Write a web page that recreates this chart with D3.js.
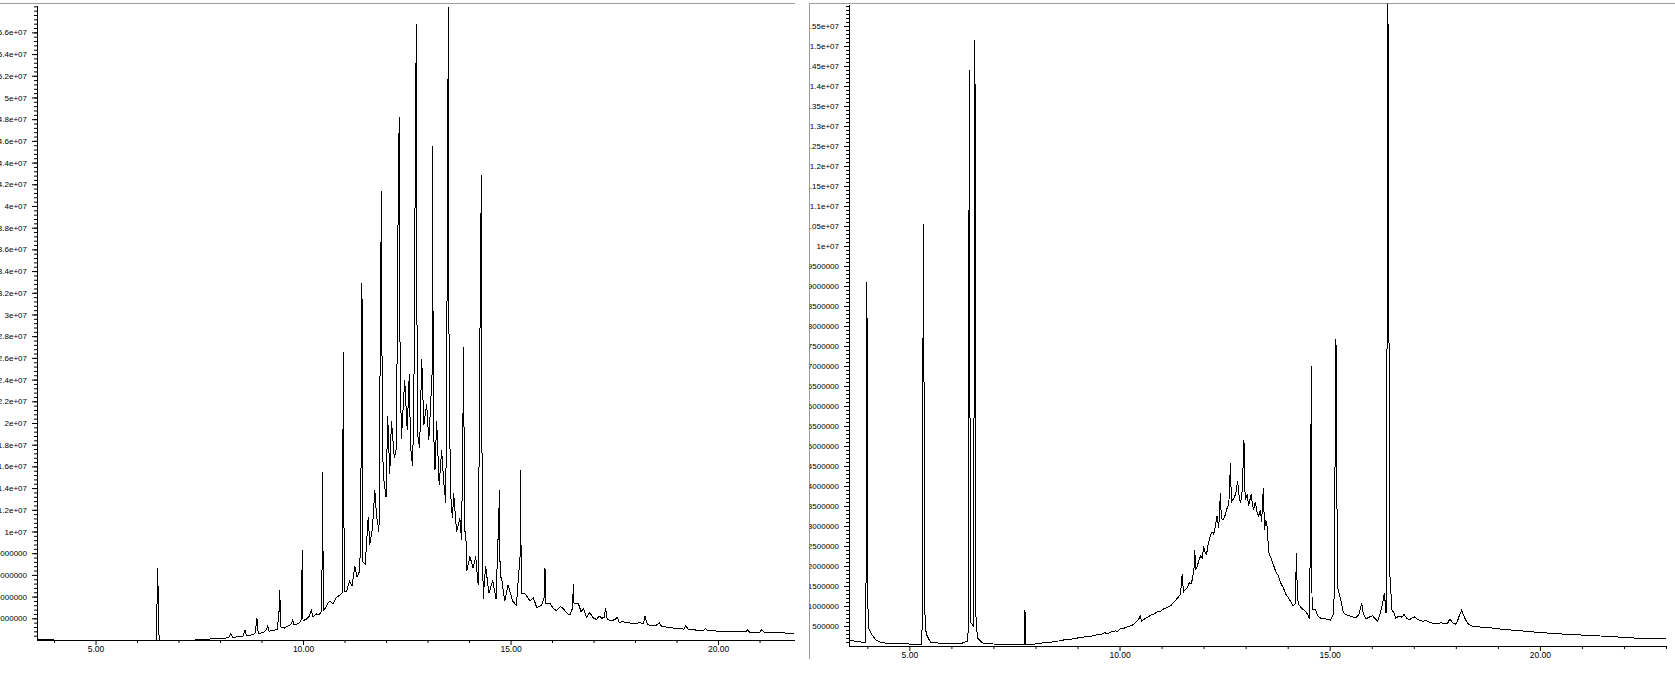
<!DOCTYPE html>
<html><head><meta charset="utf-8">
<script src="https://cdn.jsdelivr.net/npm/d3@7"></script>
<style>html,body{margin:0;padding:0;background:#fff;overflow:hidden}</style>
</head><body><svg id="c" width="1675" height="675"></svg>
<script>
// ---------- DATA: [time (min), abundance (millions of counts)] ----------
const leftTrace = [
[3.59,0.08],[3.98,0.08],[4.00,0],[6.46,0],[6.49,4.5],[6.50,6.65],[6.52,1.0],[6.54,0],[7.40,0],[7.60,0.05],[7.80,0.1],[8.00,0.15],[8.20,0.2],[8.26,0.6],[8.30,0.25],[8.45,0.3],[8.55,0.35],[8.60,0.9],[8.64,0.4],[8.80,0.5],[8.85,0.7],[8.89,2.0],[8.92,0.6],[9.05,0.7],[9.12,1.0],[9.15,1.3],[9.18,0.8],[9.30,0.9],[9.38,1.0],[9.42,2.5],[9.44,4.6],[9.46,1.2],[9.55,1.1],[9.65,1.3],[9.72,1.5],[9.75,1.9],[9.78,1.4],[9.88,1.5],[9.95,1.7],[9.97,4.0],[9.98,8.3],[10.00,1.8],[10.08,1.9],[10.15,2.2],[10.20,2.7],[10.24,2.1],[10.32,2.4],[10.38,2.3],[10.44,2.6],[10.46,7.0],[10.47,15.5],[10.49,2.7],[10.55,3.0],[10.60,3.4],[10.65,3.6],[10.72,3.3],[10.80,3.9],[10.89,4.15],[10.95,4.4],[10.97,26.5],[10.99,7.9],[11.01,4.5],[11.05,4.5],[11.12,5.4],[11.18,5.0],[11.25,6.8],[11.30,5.8],[11.37,6.4],[11.41,20.4],[11.42,32.9],[11.44,7.2],[11.50,7.0],[11.57,11.3],[11.61,8.8],[11.67,10.2],[11.73,13.8],[11.77,11.5],[11.83,10.0],[11.87,32.7],[11.89,41.4],[11.90,27.5],[11.93,15.3],[12.00,13.2],[12.04,20.6],[12.09,15.3],[12.13,20.2],[12.20,16.8],[12.25,17.7],[12.30,44.1],[12.32,48.2],[12.33,29.4],[12.37,18.5],[12.45,24.0],[12.51,19.4],[12.56,24.5],[12.59,17.9],[12.64,16.0],[12.67,21.7],[12.71,47.3],[12.73,56.8],[12.74,31.9],[12.77,18.7],[12.81,17.7],[12.86,25.9],[12.91,19.8],[12.98,21.7],[13.03,18.4],[13.07,21.3],[13.11,24.6],[13.12,45.5],[13.14,20.0],[13.18,15.7],[13.22,20.2],[13.28,14.3],[13.34,17.5],[13.39,14.6],[13.44,12.6],[13.48,37.9],[13.50,58.3],[13.51,31.5],[13.55,13.8],[13.60,11.2],[13.63,13.5],[13.70,10.0],[13.78,11.2],[13.82,9.2],[13.86,22.6],[13.87,27.0],[13.89,10.0],[13.92,10.0],[13.95,6.4],[14.02,7.7],[14.10,6.6],[14.16,7.7],[14.22,5.1],[14.28,36.8],[14.30,42.9],[14.31,18.5],[14.34,3.8],[14.40,6.8],[14.48,4.3],[14.57,5.5],[14.65,3.8],[14.72,11.7],[14.73,13.8],[14.75,5.8],[14.78,5.8],[14.86,3.6],[14.94,5.1],[15.05,3.6],[15.14,3.2],[15.23,7.7],[15.24,15.7],[15.26,4.3],[15.34,4.3],[15.47,3.6],[15.55,3.9],[15.63,3.0],[15.75,3.2],[15.82,4.0],[15.83,6.6],[15.85,3.4],[15.95,3.4],[16.03,2.9],[16.11,2.7],[16.20,3.1],[16.27,2.9],[16.35,2.5],[16.43,2.3],[16.50,3.0],[16.51,5.2],[16.53,3.4],[16.63,3.4],[16.70,2.6],[16.76,2.9],[16.83,2.1],[16.90,2.5],[16.95,2.3],[17.00,2.0],[17.07,1.9],[17.14,2.2],[17.20,2.0],[17.26,2.1],[17.29,2.9],[17.33,1.9],[17.40,1.8],[17.45,1.8],[17.52,1.9],[17.57,2.1],[17.62,1.6],[17.70,1.7],[17.80,1.6],[17.90,1.55],[18.00,1.5],[18.10,1.6],[18.20,1.5],[18.24,2.2],[18.30,1.4],[18.40,1.35],[18.50,1.3],[18.58,1.6],[18.65,1.2],[18.75,1.2],[18.85,1.15],[18.92,1.1],[19.00,1.1],[19.10,1.05],[19.18,1.0],[19.22,1.3],[19.28,1.0],[19.40,0.95],[19.50,0.9],[19.60,0.92],[19.66,0.9],[19.70,1.05],[19.76,0.85],[19.90,0.85],[20.00,0.8],[20.15,0.82],[20.30,0.8],[20.40,0.77],[20.50,0.75],[20.60,0.76],[20.68,0.75],[20.71,0.95],[20.76,0.72],[20.90,0.72],[21.00,0.7],[21.05,0.95],[21.12,0.7],[21.25,0.68],[21.40,0.65],[21.50,0.67],[21.60,0.65],[21.70,0.62],[21.83,0.6]
];

const rightTrace = [
[3.564,0.15],[3.70,0.12],[3.85,0.1],[3.96,0.1],[3.975,2.6],[3.985,9.1],[3.995,7.9],[4.005,1.35],[4.03,0.45],[4.10,0.3],[4.20,0.15],[4.35,0.08],[4.60,0.06],[5.00,0.05],[5.30,0.05],[5.32,6.8],[5.34,10.56],[5.36,1.0],[5.40,0.3],[5.50,0.1],[5.80,0.06],[6.20,0.05],[6.38,0.12],[6.40,0.4],[6.42,11.3],[6.43,14.4],[6.45,0.6],[6.52,0.5],[6.55,9.1],[6.56,15.15],[6.58,0.8],[6.62,0.2],[6.75,0.07],[7.00,0.05],[7.50,0.04],[7.73,0.04],[7.75,0.91],[7.77,0.04],[8.00,0.05],[8.20,0.08],[8.35,0.09],[8.50,0.12],[8.60,0.13],[8.70,0.16],[8.85,0.17],[9.00,0.2],[9.10,0.21],[9.20,0.24],[9.35,0.25],[9.45,0.28],[9.55,0.29],[9.65,0.33],[9.72,0.31],[9.80,0.35],[9.90,0.38],[9.95,0.36],[10.02,0.43],[10.10,0.44],[10.18,0.48],[10.25,0.5],[10.32,0.53],[10.38,0.58],[10.45,0.66],[10.49,0.75],[10.53,0.62],[10.60,0.68],[10.67,0.72],[10.75,0.78],[10.82,0.8],[10.90,0.86],[10.98,0.87],[11.05,0.93],[11.12,0.96],[11.21,1.0],[11.30,1.1],[11.38,1.2],[11.45,1.29],[11.49,1.81],[11.52,1.35],[11.57,1.42],[11.61,1.45],[11.66,1.58],[11.70,1.55],[11.73,1.66],[11.77,1.9],[11.79,2.41],[11.81,1.9],[11.85,2.0],[11.89,2.15],[11.93,2.25],[11.97,2.2],[12.00,2.5],[12.03,2.35],[12.07,2.29],[12.11,2.55],[12.16,2.75],[12.20,2.85],[12.24,2.8],[12.28,3.0],[12.32,3.25],[12.36,2.95],[12.40,3.83],[12.42,3.2],[12.46,3.15],[12.52,3.29],[12.56,3.45],[12.60,3.55],[12.64,4.58],[12.66,3.6],[12.72,3.7],[12.76,3.79],[12.81,4.12],[12.85,3.7],[12.88,3.58],[12.92,3.9],[12.96,5.16],[12.98,3.9],[13.00,3.66],[13.04,3.8],[13.07,3.5],[13.13,3.79],[13.16,3.55],[13.19,3.41],[13.23,3.6],[13.27,3.35],[13.31,3.25],[13.35,3.4],[13.38,3.1],[13.42,3.95],[13.45,2.91],[13.48,3.15],[13.51,3.0],[13.55,2.33],[13.60,2.2],[13.67,2.0],[13.72,1.85],[13.78,1.75],[13.83,1.58],[13.90,1.45],[13.95,1.3],[13.99,1.25],[14.05,1.15],[14.13,1.0],[14.18,1.05],[14.21,2.33],[14.23,1.2],[14.26,1.04],[14.33,0.95],[14.38,0.9],[14.42,0.87],[14.47,0.8],[14.52,0.68],[14.55,4.0],[14.56,7.0],[14.58,0.9],[14.66,0.91],[14.72,0.75],[14.78,0.7],[14.90,0.68],[15.02,0.65],[15.10,0.83],[15.13,5.0],[15.14,7.67],[15.16,7.35],[15.18,1.5],[15.26,1.16],[15.32,0.85],[15.38,0.79],[15.50,0.74],[15.62,0.7],[15.70,0.8],[15.76,1.08],[15.80,0.8],[15.86,0.68],[15.94,0.72],[16.02,0.76],[16.08,0.68],[16.14,0.62],[16.20,0.8],[16.26,1.08],[16.30,1.33],[16.34,0.83],[16.37,9.35],[16.38,16.5],[16.40,13.7],[16.42,2.0],[16.48,0.9],[16.53,0.83],[16.57,0.7],[16.65,0.75],[16.72,0.72],[16.77,0.79],[16.83,0.7],[16.89,0.65],[16.95,0.7],[17.01,0.73],[17.10,0.66],[17.21,0.62],[17.30,0.63],[17.40,0.58],[17.52,0.56],[17.65,0.58],[17.75,0.55],[17.80,0.56],[17.86,0.68],[17.92,0.58],[17.99,0.54],[18.04,0.62],[18.08,0.75],[18.14,0.9],[18.18,0.78],[18.23,0.66],[18.30,0.55],[18.39,0.5],[18.50,0.5],[18.60,0.47],[18.71,0.47],[18.85,0.45],[19.00,0.43],[19.10,0.42],[19.30,0.4],[19.50,0.38],[19.70,0.37],[19.85,0.35],[20.10,0.33],[20.40,0.31],[20.64,0.29],[20.90,0.28],[21.20,0.26],[21.44,0.25],[21.70,0.23],[22.00,0.22],[22.23,0.2],[22.60,0.19],[23.00,0.18]
];

// axis ticks
const leftYTicks = [2,4,6,8,10,12,14,16,18,20,22,24,26,28,30,32,34,36,38,40,42,44,46,48,50,52,54,56];
const leftYLabels = ["2000000","4000000","6000000","8000000","1e+07","1.2e+07","1.4e+07","1.6e+07","1.8e+07","2e+07","2.2e+07","2.4e+07","2.6e+07","2.8e+07","3e+07","3.2e+07","3.4e+07","3.6e+07","3.8e+07","4e+07","4.2e+07","4.4e+07","4.6e+07","4.8e+07","5e+07","5.2e+07","5.4e+07","5.6e+07"];
const rightYTicks = [0.5,1,1.5,2,2.5,3,3.5,4,4.5,5,5.5,6,6.5,7,7.5,8,8.5,9,9.5,10,10.5,11,11.5,12,12.5,13,13.5,14,14.5,15,15.5];
const rightYLabels = ["500000","1000000","1500000","2000000","2500000","3000000","3500000","4000000","4500000","5000000","5500000","6000000","6500000","7000000","7500000","8000000","8500000","9000000","9500000","1e+07","1.05e+07","1.1e+07","1.15e+07","1.2e+07","1.25e+07","1.3e+07","1.35e+07","1.4e+07","1.45e+07","1.5e+07","1.55e+07"];
const xMajorTicks = [5,10,15,20];
const xMajorLabels = ["5.00","10.00","15.00","20.00"];

// ---------- DRAW ----------
const svg = d3.select("#c");
const FONT = "'Liberation Sans', Arial, sans-serif";
const FSX = 8.5, FSY = 8;

// window frames
svg.append("line").attr("x1",0).attr("x2",795).attr("y1",3.5).attr("y2",3.5).attr("stroke","#9c9c9c");
svg.append("line").attr("x1",809).attr("x2",1675).attr("y1",3.5).attr("y2",3.5).attr("stroke","#9c9c9c");
svg.append("line").attr("x1",809.5).attr("x2",809.5).attr("y1",3).attr("y2",659).attr("stroke","#9c9c9c");

function panel(id, cfg) {
  const x = d3.scaleLinear().domain(cfg.tDomain).range(cfg.xr);
  const y = d3.scaleLinear().domain([0, cfg.vMax]).range(cfg.yr);
  const g = svg.append("g");

  g.append("clipPath").attr("id", id).append("rect")
    .attr("x", cfg.xr[0]).attr("y", 3.5).attr("width", cfg.xr[1]-cfg.xr[0]+1).attr("height", cfg.yr[0]-3);
  g.append("clipPath").attr("id", id + "lab").append("rect")
    .attr("x", cfg.labelClip).attr("y", 0).attr("width", cfg.xr[0]-cfg.labelClip+2).attr("height", 675);

  const yg = g.append("g").attr("clip-path", `url(#${id}lab)`);
  // minor y ticks
  const minors = d3.range(cfg.minorStep, cfg.vMax, cfg.minorStep).map(v => +v.toFixed(3));
  yg.append("g").attr("transform", `translate(${cfg.xr[0]},0)`)
    .call(d3.axisLeft(y).tickValues(minors).tickFormat("").tickSize(3).tickSizeOuter(0))
    .call(s => s.select(".domain").remove());
  // major y ticks + labels
  const ya = yg.append("g").attr("transform", `translate(${cfg.xr[0]},0)`)
    .call(d3.axisLeft(y).tickValues(cfg.yTicks).tickFormat((d,i) => cfg.yLabels[i]).tickSize(5).tickSizeOuter(0).tickPadding(5));
  ya.select(".domain").remove();
  ya.selectAll("text").attr("font-family", FONT).attr("font-size", FSY).attr("fill", "#000");
  g.append("line").attr("x1", cfg.xr[0]+0.5).attr("x2", cfg.xr[0]+0.5).attr("y1", cfg.yr[1]).attr("y2", cfg.yr[0]+0.5).attr("stroke","#000");

  // x axis
  const xMinor = d3.range(Math.ceil(cfg.tDomain[0]), Math.floor(cfg.tDomain[1]) + 1).filter(t => t % 5 !== 0);
  g.append("g").attr("transform", `translate(0,${cfg.yr[0]})`)
    .call(d3.axisBottom(x).tickValues(xMinor).tickFormat("").tickSize(3).tickSizeOuter(0))
    .call(s => s.select(".domain").remove());
  const xa = g.append("g").attr("transform", `translate(0,${cfg.yr[0]})`)
    .call(d3.axisBottom(x).tickValues(xMajorTicks).tickFormat((d,i) => xMajorLabels[i]).tickSize(5).tickSizeOuter(0).tickPadding(1.2));
  xa.select(".domain").remove();
  xa.selectAll("text").attr("font-family", FONT).attr("font-size", FSX).attr("fill", "#000");
  g.append("line").attr("x1", cfg.xr[0]).attr("x2", cfg.xr[1]+1).attr("y1", cfg.yr[0]+0.5).attr("y2", cfg.yr[0]+0.5).attr("stroke","#000");

  // trace
  const line = d3.line().x(d => x(d[0])).y(d => y(d[1]));
  g.append("path").datum(cfg.trace)
    .attr("clip-path", `url(#${id})`)
    .attr("d", line)
    .attr("fill", "none").attr("stroke", "#000").attr("stroke-width", 1)
    .attr("shape-rendering", "crispEdges");
}

panel("clipL", {
  trace: leftTrace, tDomain: [3.59, 21.83], xr: [37, 794], yr: [640, 6], labelClip: 0,
  vMax: 58.43, minorStep: 0.4, yTicks: leftYTicks, yLabels: leftYLabels
});
panel("clipR", {
  trace: rightTrace, tDomain: [3.564, 23.0], xr: [849, 1666], yr: [646, 5], labelClip: 809.5,
  vMax: 16.025, minorStep: 0.1, yTicks: rightYTicks, yLabels: rightYLabels
});
</script>
</body></html>
